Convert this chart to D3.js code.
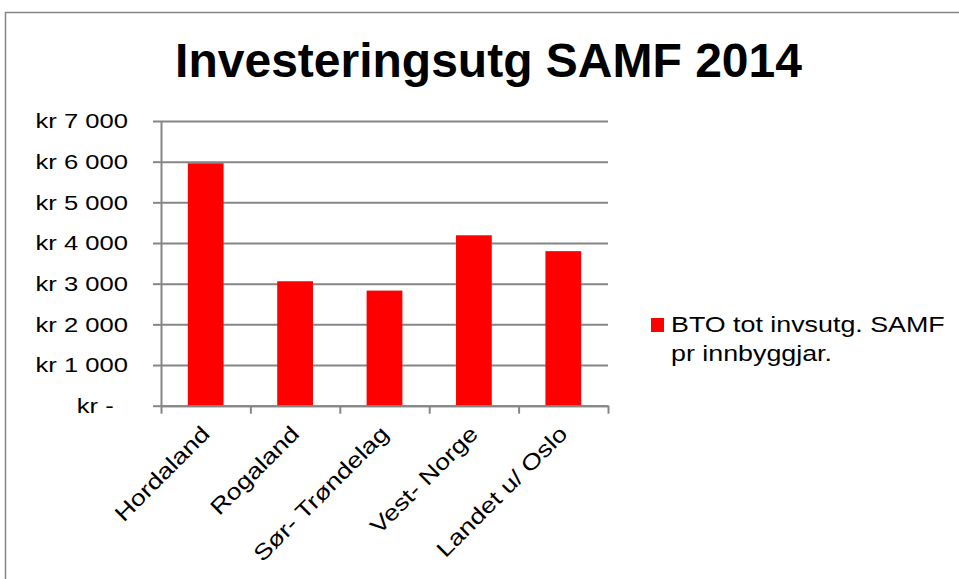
<!DOCTYPE html>
<html>
<head>
<meta charset="utf-8">
<script src="https://cdn.jsdelivr.net/npm/d3@7"></script>
<style>
  html, body { margin: 0; padding: 0; background: #fff; }
  svg { display: block; font-family: Arial, "Liberation Sans", sans-serif; }
</style>
</head>
<body>
<div id="chart"></div>
<script>
// --- data ---
const categories = ['Hordaland', 'Rogaland', 'Sør- Trøndelag', 'Vest- Norge', 'Landet u/ Oslo'];
const values = [5960, 3060, 2830, 4190, 3800];
const yTicks = [0, 1000, 2000, 3000, 4000, 5000, 6000, 7000];
const yTickLabels = ['kr -\u2007', 'kr 1 000', 'kr 2 000', 'kr 3 000', 'kr 4 000', 'kr 5 000', 'kr 6 000', 'kr 7 000'];
const seriesName = ['BTO tot invsutg. SAMF', 'pr innbyggjar.'];

const W = 959, H = 579;
const plot = { left: 161, right: 608, top: 121, bottom: 405.7 };
const grey = '#868686';
const stretch = 1.22; // the small text in the original is drawn a bit wide

const svg = d3.select('#chart').append('svg')
    .attr('width', W)
    .attr('height', H);

// chart frame (cut off at the right and bottom, as in the original)
svg.append('rect')
    .attr('x', 5.5).attr('y', 12.5)
    .attr('width', 1000).attr('height', 1000)
    .attr('fill', 'none')
    .attr('stroke', grey)
    .attr('stroke-width', 1.5);

svg.append('text')
    .attr('x', 488.5).attr('y', 77)
    .attr('text-anchor', 'middle')
    .attr('font-size', 48)
    .attr('font-weight', 'bold')
    .text('Investeringsutg SAMF 2014');

// --- scales ---
const x = d3.scaleBand()
    .domain(categories)
    .range([plot.left, plot.right])
    .paddingInner(0.6)
    .paddingOuter(0.3);

const y = d3.scaleLinear()
    .domain([0, 7000])
    .range([plot.bottom, plot.top]);

// gridlines
const grid = svg.append('g')
    .attr('transform', `translate(${plot.left},0)`)
    .call(d3.axisLeft(y).tickValues(yTicks).tickSize(-(plot.right - plot.left)).tickFormat(''));
grid.select('.domain').remove();
grid.selectAll('line').attr('stroke', grey).attr('stroke-width', 2);

// bars
svg.append('g').selectAll('rect')
    .data(values)
    .enter()
    .append('rect')
    .attr('x', (d, i) => x(categories[i]))
    .attr('y', d => y(d))
    .attr('width', x.bandwidth())
    .attr('height', d => y(0) - y(d))
    .attr('fill', '#ff0000');

// y axis
const yAxis = svg.append('g')
    .attr('transform', `translate(${plot.left},0)`)
    .call(d3.axisLeft(y)
        .tickValues(yTicks)
        .tickSize(8)
        .tickSizeOuter(0)
        .tickPadding(25)
        .tickFormat((d, i) => yTickLabels[i]));
yAxis.select('.domain').attr('stroke', grey).attr('stroke-width', 2);
yAxis.selectAll('line').attr('stroke', grey).attr('stroke-width', 2);
yAxis.selectAll('text')
    .attr('x', null)
    .attr('transform', `translate(-33,0) scale(${stretch},1)`)
    .attr('fill', '#000')
    .attr('font-size', 21)
    .attr('font-family', 'Arial, "Liberation Sans", sans-serif');

// x axis: ticks sit between the categories
const xEdges = d3.scaleLinear().domain([0, categories.length]).range([plot.left, plot.right]);
const xAxis = svg.append('g')
    .attr('transform', `translate(0,${plot.bottom})`)
    .call(d3.axisBottom(xEdges).tickValues(d3.range(categories.length + 1)).tickSize(8).tickSizeOuter(0).tickFormat(''));
xAxis.select('.domain').attr('stroke', grey).attr('stroke-width', 2);
xAxis.selectAll('line').attr('stroke', grey).attr('stroke-width', 2);

svg.append('g').selectAll('text')
    .data(categories)
    .enter()
    .append('text')
    .attr('transform', d => `translate(${x(d) + x.bandwidth() / 2},${plot.bottom + 24}) rotate(-45) scale(${stretch},1)`)
    .attr('text-anchor', 'end')
    .attr('dy', '0.35em')
    .attr('font-size', 22)
    .text(d => d);

// legend
const legend = svg.append('g').attr('transform', 'translate(651,318)');
legend.append('rect')
    .attr('width', 13).attr('height', 14)
    .attr('fill', '#ff0000');
legend.selectAll('text.leg')
    .data(seriesName)
    .enter()
    .append('text')
    .attr('class', 'leg')
    .attr('transform', (d, i) => `translate(20,${14 + i * 29}) scale(${stretch},1)`)
    .attr('font-size', 22)
    .text(d => d);
</script>
</body>
</html>
